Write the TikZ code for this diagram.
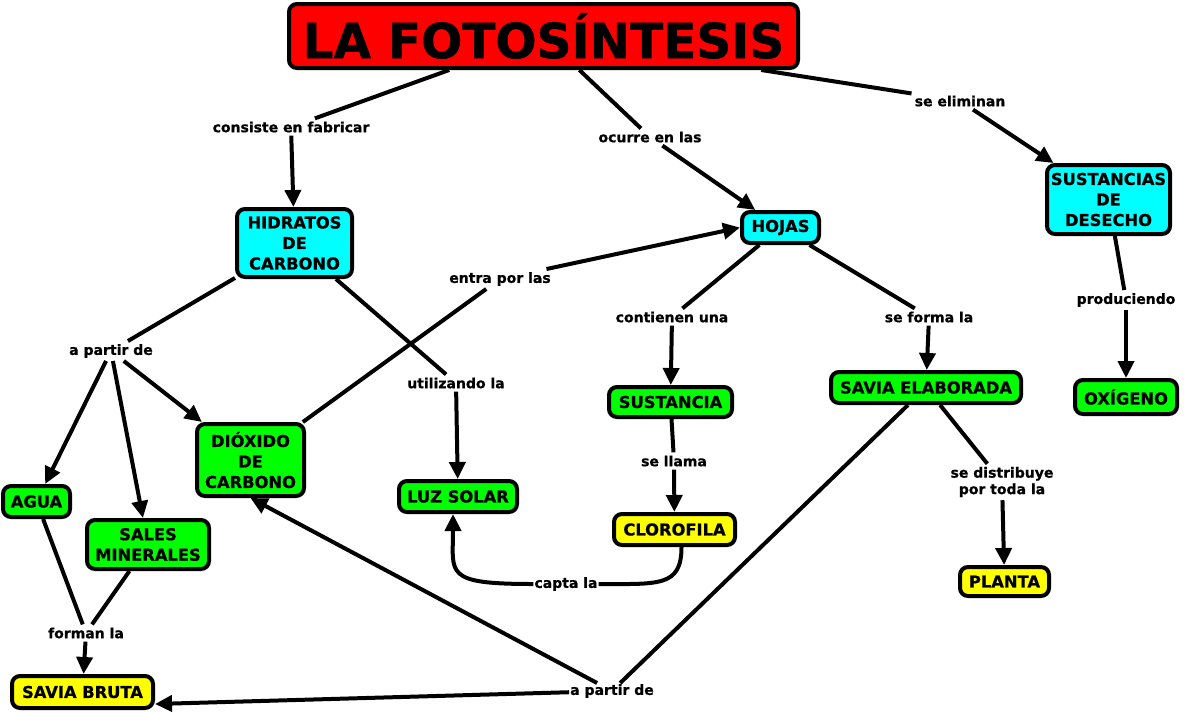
\documentclass[tikz,border=0pt]{standalone}
\usepackage{fontspec}
\setmainfont{DejaVu Sans}[BoldFeatures={FakeBold=0.8}]
\usetikzlibrary{arrows.meta}
\definecolor{cmcyan}{RGB}{0,255,255}
\definecolor{cmgreen}{RGB}{0,255,0}
\definecolor{cmyellow}{RGB}{255,255,0}
\definecolor{cmred}{RGB}{255,0,0}
\begin{document}
\begin{tikzpicture}[x=1pt,y=-1pt,
 box/.style={draw=black, line width=4pt, rounded corners=8pt, font=\fontsize{16.3}{20.5}\selectfont\bfseries, align=center, inner sep=0pt},
 cbox/.style={box, fill=cmcyan},
 gbox/.style={box, fill=cmgreen},
 ybox/.style={box, fill=cmyellow},
 lab/.style={font=\fontsize{14}{16.5}\selectfont\bfseries, align=center, inner sep=3pt},
 conn/.style={line width=4pt},
 arr/.style={line width=4pt, -{Triangle[length=17pt,width=16pt]}}]
\useasboundingbox (0,0) rectangle (1185,712);
\fill[white] (0,0) rectangle (1185,712);
% boxes
\node[box, fill=cmred, minimum width=509pt, minimum height=64pt, font=\fontsize{48.5}{52}\selectfont\bfseries] (title) at (543.5,36) {LA FOTOSÍNTESIS};
\node[cbox, minimum width=115pt, minimum height=68pt] (hidratos) at (294.5,243) {HIDRATOS\\DE\\CARBONO};
\node[cbox, minimum width=77pt, minimum height=31pt] (hojas) at (780.5,227.5) {HOJAS};
\node[cbox, minimum width=123pt, minimum height=69pt] (desecho) at (1108.5,199.5) {SUSTANCIAS\\DE\\DESECHO};
\node[gbox, minimum width=107pt, minimum height=72pt] (dioxido) at (250.5,460) {DIÓXIDO\\DE\\CARBONO};
\node[gbox, minimum width=67pt, minimum height=31pt] (agua) at (36.5,501.5) {AGUA};
\node[gbox, minimum width=122pt, minimum height=49pt] (sales) at (148,544.5) {SALES\\MINERALES};
\node[gbox, minimum width=118pt, minimum height=31pt] (luz) at (458,496.5) {LUZ SOLAR};
\node[gbox, minimum width=123pt, minimum height=30pt] (sustancia) at (670.5,402) {SUSTANCIA};
\node[ybox, minimum width=121pt, minimum height=31pt] (cloro) at (674.5,529.5) {CLOROFILA};
\node[gbox, minimum width=190pt, minimum height=31pt] (saviae) at (926,387.5) {SAVIA ELABORADA};
\node[ybox, minimum width=89pt, minimum height=29pt] (planta) at (1004.5,581.5) {PLANTA};
\node[gbox, minimum width=102pt, minimum height=34pt] (oxigeno) at (1126,397) {OXÍGENO};
\node[ybox, minimum width=141pt, minimum height=32pt] (sbruta) at (82.5,692) {SAVIA BRUTA};
% labels
\node[lab] (lconsiste) at (291,127) {consiste en fabricar};
\node[lab] (locurre) at (650,137) {ocurre en las};
\node[lab] (leliminan) at (960,101) {se eliminan};
\node[lab] (lentra) at (500,279) {entra por las};
\node[lab] (lapartir) at (111,351) {a partir de};
\node[lab] (lutil) at (456,383) {utilizando la};
\node[lab] (lcontienen) at (672,317) {contienen una};
\node[lab] (lforma) at (929,317) {se forma la};
\node[lab] (lllama) at (674,461) {se llama};
\node[lab, inner sep=1pt] (lcapta) at (566,584) {capta la};
\node[lab] (ldistrib) at (1002,482) {se distribuye\\por toda la};
\node[lab] (lprod) at (1126,300) {produciendo};
\node[lab] (lforman) at (86,633) {forman la};
\node[lab, inner sep=1pt] (lapartir2) at (612,691) {a partir de};
% connectors
\draw[conn] (title) -- (lconsiste);
\draw[arr] (lconsiste) -- (hidratos);
\draw[conn] (title) -- (locurre);
\draw[arr] (locurre) -- (hojas);
\draw[conn] (title) -- (leliminan);
\draw[arr] (leliminan) -- (desecho);
\draw[conn] (hidratos) -- (lapartir);
\draw[arr] (lapartir) -- (agua);
\draw[arr] (lapartir) -- (sales);
\draw[arr] (lapartir) -- (dioxido);
\draw[conn] (hidratos) -- (lutil);
\draw[arr] (lutil) -- (luz);
\draw[conn] (dioxido) -- (lentra);
\draw[arr] (lentra) -- (hojas.west);
\draw[conn] (hojas) -- (lcontienen);
\draw[arr] (lcontienen) -- (sustancia);
\draw[conn] (hojas) -- (lforma);
\draw[arr] (lforma) -- (saviae);
\draw[conn] (sustancia) -- (lllama);
\draw[arr] (lllama) -- (cloro);
\draw[conn] ([xshift=7pt]cloro.south) .. controls +(0,40) and +(60,0) .. (lcapta.east);
\draw[arr] (lcapta.west) .. controls +(-90,0) and +(0,60) .. ([xshift=-5pt]luz.south);
\draw[conn] (saviae) -- (lapartir2);
\draw[arr] (lapartir2) -- (dioxido.south);
\draw[arr] (lapartir2) -- ([yshift=-12pt]sbruta.east);
\draw[conn] (saviae) -- (ldistrib);
\draw[arr] (ldistrib) -- (planta);
\draw[conn] (desecho) -- (lprod);
\draw[arr] (lprod) -- (oxigeno);
\draw[conn] (agua) -- (lforman);
\draw[conn] (sales) -- (lforman);
\draw[arr] (lforman) -- (sbruta);
\end{tikzpicture}
\end{document}
